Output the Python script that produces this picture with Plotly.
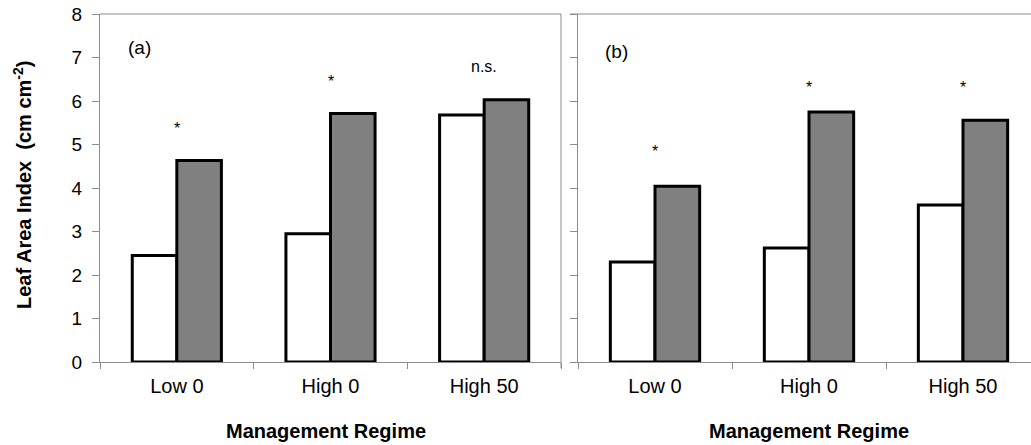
import plotly.graph_objects as go

categories = ["Low 0", "High 0", "High 50"]
a_white = [2.45, 2.95, 5.68]
a_gray = [4.63, 5.71, 6.03]
b_white = [2.30, 2.62, 3.61]
b_gray = [4.04, 5.75, 5.56]
a_marks = ["*", "*", "n.s."]
a_mark_y = [5.36, 6.44, 6.80]
b_marks = ["*", "*", "*"]
b_mark_y = [4.85, 6.32, 6.30]
y_ticks = [0, 1, 2, 3, 4, 5, 6, 7, 8]

FONT = "Liberation Sans, Arial, sans-serif"
AX = "#8c8c8c"

fig = go.Figure()
for xa, ya, w, g in [("x", "y", a_white, a_gray), ("x2", "y2", b_white, b_gray)]:
    fig.add_trace(go.Bar(x=categories, y=w, xaxis=xa, yaxis=ya, marker=dict(color="white", line=dict(color="black", width=3)), showlegend=False))
    fig.add_trace(go.Bar(x=categories, y=g, xaxis=xa, yaxis=ya, marker=dict(color="#808080", line=dict(color="black", width=3)), showlegend=False))

W, H = 1031, 445
L, R, T, B = 100, 0, 14, 83
pw = W - L - R
d1 = (561 - L) / pw
d2 = (578 - L) / pw
span2 = (W - 578) / 154.0

common_x = dict(type="category", tickson="boundaries", ticks="outside", ticklen=6, tickcolor=AX,
                showline=True, linecolor=AX, linewidth=1, showgrid=False, zeroline=False,
                ticklabelstandoff=6,
                tickfont=dict(family=FONT, size=20, color="black"), mirror=False)
common_y = dict(range=[0, 8], tickvals=y_ticks, ticks="outside", ticklen=7, tickcolor=AX,
                showline=True, linecolor=AX, linewidth=1, showgrid=False, zeroline=False,
                ticklabelstandoff=6,
                tickfont=dict(family=FONT, size=19, color="black"))

fig.update_layout(
    width=W, height=H, margin=dict(l=L, r=R, t=T, b=B),
    plot_bgcolor="white", paper_bgcolor="white",
    barmode="group", bargap=0.42, bargroupgap=0,
    xaxis=dict(domain=[0, d1], range=[-0.5, 2.5], anchor="y", **common_x),
    yaxis=dict(domain=[0, 1], anchor="x", showticklabels=True, **common_y),
    xaxis2=dict(domain=[d2, 1], range=[-0.5, -0.5 + span2], anchor="y2", **common_x),
    yaxis2=dict(domain=[0, 1], anchor="x2", showticklabels=False, **common_y),
)

# panel borders (top and right for (a), top for (b))
fig.add_shape(type="line", xref="x domain", yref="y domain", x0=0, x1=1, y0=1, y1=1, line=dict(color=AX, width=1))
fig.add_shape(type="line", xref="x domain", yref="y domain", x0=1, x1=1, y0=-0.017, y1=1, line=dict(color=AX, width=1))
fig.add_shape(type="line", xref="x2 domain", yref="y2 domain", x0=-0.018, x1=1, y0=1, y1=1, line=dict(color=AX, width=1))

ann = []
for i, c in enumerate(categories):
    ann.append(dict(x=c, y=a_mark_y[i], xref="x", yref="y", text=a_marks[i], showarrow=False,
                    font=dict(family=FONT, size=16, color="black")))
    ann.append(dict(x=c, y=b_mark_y[i], xref="x2", yref="y2", text=b_marks[i], showarrow=False,
                    font=dict(family=FONT, size=16, color="black")))
ann.append(dict(x=-0.24, y=7.24, xref="x", yref="y", text="(a)", showarrow=False,
                font=dict(family=FONT, size=19, color="black")))
ann.append(dict(x=-0.25, y=7.13, xref="x2", yref="y2", text="(b)", showarrow=False,
                font=dict(family=FONT, size=19, color="black")))
for xc in [326, 809]:
    ann.append(dict(x=(xc - L) / pw, y=-(431 - 362) / 348, xref="paper", yref="paper",
                    text="<b>Management Regime</b>", showarrow=False, xanchor="center", yanchor="middle",
                    font=dict(family=FONT, size=20, color="black")))
ann.append(dict(x=(22 - L) / pw, y=(362 - 185) / 348, xref="paper", yref="paper", textangle=-90,
                text="<b>Leaf Area Index  (cm cm<sup>-2</sup>)</b>", showarrow=False,
                xanchor="center", yanchor="middle", font=dict(family=FONT, size=20, color="black")))
fig.update_layout(annotations=ann)

fig.write_html("out.html")
